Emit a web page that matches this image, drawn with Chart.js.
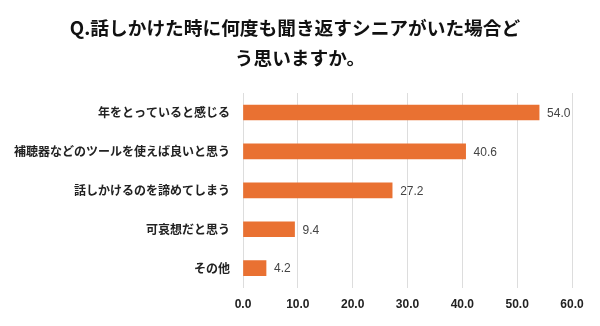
<!DOCTYPE html>
<html>
<head>
<meta charset="utf-8">
<script src="https://cdn.jsdelivr.net/npm/chart.js@4"></script>
<style>
html,body{margin:0;padding:0;background:#fff;}
#wrap{width:600px;height:326px;}
</style>
</head>
<body>
<div id="wrap"><canvas id="c" width="600" height="326"></canvas></div>
<script>
const titleLines = ["Q.話しかけた時に何度も聞き返すシニアがいた場合ど", "う思いますか。"];
const categories = ["年をとっていると感じる", "補聴器などのツールを使えば良いと思う", "話しかけるのを諦めてしまう", "可哀想だと思う", "その他"];
const values = [54.0, 40.6, 27.2, 9.4, 4.2];
const xTicks = [0, 10, 20, 30, 40, 50, 60];

const titleDraw = {
  id: 'titleDraw',
  afterDraw(chart) {
    const ctx = chart.ctx;
    ctx.save();
    ctx.font = 'bold 18.7px "Noto Sans CJK JP", sans-serif';
    ctx.fillStyle = '#111';
    ctx.textAlign = 'center';
    ctx.textBaseline = 'middle';
    ctx.fillText(titleLines[0], 295, 28);
    ctx.fillText(titleLines[1], 300, 58);
    ctx.restore();
  }
};

const valueLabels = {
  id: 'valueLabels',
  afterDatasetsDraw(chart) {
    const ctx = chart.ctx;
    const meta = chart.getDatasetMeta(0);
    ctx.save();
    ctx.font = '12px "Liberation Sans", Arial, sans-serif';
    ctx.fillStyle = '#444';
    ctx.textAlign = 'left';
    ctx.textBaseline = 'middle';
    meta.data.forEach((bar, i) => {
      ctx.fillText(values[i].toFixed(1), bar.x + 8, bar.y + 1);
    });
    ctx.restore();
  }
};

new Chart(document.getElementById('c'), {
  type: 'bar',
  data: {
    labels: categories,
    datasets: [{
      data: values,
      backgroundColor: '#E97132',
      borderWidth: 0,
      barThickness: 15
    }]
  },
  options: {
    indexAxis: 'y',
    responsive: false,
    animation: false,
    devicePixelRatio: 1,
    layout: { padding: { left: 0, right: 28, top: 93, bottom: 4 } },
    plugins: {
      legend: { display: false },
      tooltip: { enabled: false },
      title: { display: false }
    },
    scales: {
      x: {
        min: 0, max: 60,
        afterBuildTicks(scale) { scale.ticks = xTicks.map(v => ({ value: v })); },
        grid: { color: '#dddddd', drawTicks: false, lineWidth: 1 },
        border: { display: false },
        ticks: {
          padding: 10,
          color: '#222',
          font: { family: '"Liberation Sans", Arial, sans-serif', size: 12, weight: 'bold' },
          callback: (v) => Number(v).toFixed(1)
        }
      },
      y: {
        afterFit(scale) { scale.width = 243; },
        grid: { display: false, drawTicks: false },
        border: { display: false },
        ticks: {
          padding: 13,
          color: '#222',
          font: { family: '"Noto Sans CJK JP", sans-serif', size: 12, weight: 'bold' }
        }
      }
    }
  },
  plugins: [valueLabels, titleDraw]
});
</script>
</body>
</html>
